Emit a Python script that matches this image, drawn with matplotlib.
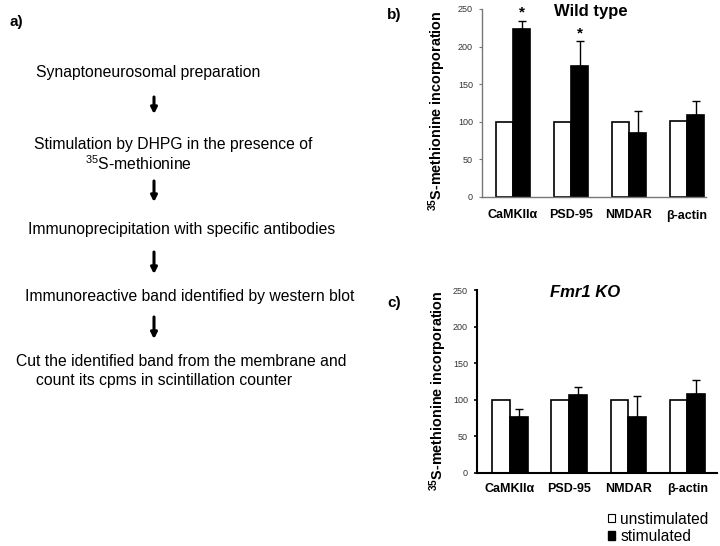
import matplotlib
matplotlib.use("Agg")
import matplotlib.pyplot as plt
from matplotlib.patches import Patch
import numpy as np

plt.rcParams['font.family'] = ['Liberation Sans', 'DejaVu Sans']
plt.rcParams['mathtext.fontset'] = 'custom'
plt.rcParams['mathtext.rm'] = 'Liberation Sans'
plt.rcParams['mathtext.bf'] = 'Liberation Sans:bold'

categories = ["CaMKIIα", "PSD-95", "NMDAR", "β-actin"]
yticks = [0, 50, 100, 150, 200, 250]

wt_unstim = [100, 100, 100, 101]
wt_stim = [223, 174, 85, 109]
wt_err = [11, 33, 29, 18]
wt_sig = [True, True, False, False]

ko_unstim = [100, 100, 100, 100]
ko_stim = [76, 106, 76, 108]
ko_err = [12, 12, 29, 19]

flow_steps = [
    "Synaptoneurosomal preparation",
    "Stimulation by DHPG in the presence of",
    "Immunoprecipitation with specific antibodies",
    "Immunoreactive band identified by western blot",
    "Cut the identified band from the membrane and",
]

W, H = 720, 546
fig = plt.figure(figsize=(7.2, 5.46), dpi=100)

def fx(px):
    return px / W

def fy(py):
    return 1 - py / H

# ---- panel a: flow chart text ----
fs = 11.3
fig.text(fx(10), fy(22), "a)", fontsize=11, fontweight='bold', va='center')
fig.text(fx(36), fy(72), flow_steps[0], fontsize=fs, va='center')
fig.text(fx(34), fy(145), flow_steps[1], fontsize=fs, va='center')
fig.text(fx(85), fy(164), r"$^{35}$S-methionine", fontsize=fs, va='center')
fig.text(fx(28), fy(229), flow_steps[2], fontsize=fs, va='center')
fig.text(fx(25), fy(297), flow_steps[3], fontsize=fs, va='center')
fig.text(fx(16), fy(362), flow_steps[4], fontsize=fs, va='center')
fig.text(fx(36), fy(380), "count its cpms in scintillation counter", fontsize=fs, va='center')

for y0, y1 in [(97, 114), (181, 202), (252, 274), (317, 339)]:
    fig.add_artist(matplotlib.patches.FancyArrowPatch(
        (fx(154), fy(y0)), (fx(154), fy(y1)), transform=fig.transFigure,
        arrowstyle='-|>,head_length=0.35,head_width=0.18', lw=2.2, color='black',
        mutation_scale=10, shrinkA=0, shrinkB=0))

# ---- bar panels ----
w = 0.3
x = np.arange(len(categories))

def bar_panel(rect, unstim, stim, err, title, italic, axcolor, axlw, xlim, labelpos, xpad):
    ax = fig.add_axes(rect)
    ax.bar(x - w / 2, unstim, w, color='white', edgecolor='black', linewidth=1.2)
    ax.bar(x + w / 2, stim, w, color='black', edgecolor='black', linewidth=1.2)
    ax.errorbar(x + w / 2, stim, yerr=[np.zeros(len(err)), err], fmt='none',
                ecolor='black', elinewidth=1.0, capsize=3, capthick=1.0)
    ax.set_ylim(0, 250)
    ax.set_xlim(*xlim)
    ax.set_yticks(yticks)
    ax.set_yticklabels([str(t) for t in yticks], fontsize=6.5, color='#333333')
    ax.set_xticks(x)
    ax.set_xticklabels(categories, fontsize=9, fontweight='bold')
    ax.tick_params(axis='x', length=0, pad=xpad)
    ax.tick_params(axis='y', length=2.5, width=axlw * 0.8, color=axcolor, pad=4)
    for s in ['top', 'right']:
        ax.spines[s].set_visible(False)
    for s in ['left', 'bottom']:
        ax.spines[s].set_color(axcolor)
        ax.spines[s].set_linewidth(axlw)
    ax.set_ylabel(r"$^{\mathbf{35}}$S-methionine incorporation", fontsize=10.4,
                  fontweight='bold')
    ax.yaxis.set_label_coords(*labelpos)
    ax.text(title[1], title[2], title[0], transform=ax.transAxes, fontsize=12,
            fontweight='bold', style='italic' if italic else 'normal',
            ha='center', va='center')
    return ax

# panel b
axb = bar_panel([fx(482), fy(197), fx(705.5 - 482), (197 - 9) / H],
                wt_unstim, wt_stim, wt_err, ("Wild type", 0.488, 0.985), False,
                '#777777', 1.0, (-0.534, 3.32), (-0.153, 0.46), 9)
for i, s in enumerate(wt_sig):
    if s:
        axb.text(x[i] + w / 2, wt_stim[i] + wt_err[i] + 11, "*", ha='center',
                 va='center', fontsize=11, fontweight='bold')
fig.text(fx(387), fy(15), "b)", fontsize=11, fontweight='bold', va='center')

# panel c
axc = bar_panel([fx(477), fy(473), fx(240), (473 - 290) / H],
                ko_unstim, ko_stim, ko_err, ("Fmr1 KO", 0.45, 0.985), True,
                'black', 1.5, (-0.56, 3.5), (-0.117, 0.45), 7)
fig.text(fx(387), fy(303), "c)", fontsize=11, fontweight='bold', va='center')

# legend
handles = [Patch(facecolor='white', edgecolor='black', linewidth=0.8, label='unstimulated'),
           Patch(facecolor='black', edgecolor='black', label='stimulated')]
fig.legend(handles=handles, loc='center left', bbox_to_anchor=(fx(600), fy(528)),
           frameon=False, fontsize=11.2, handlelength=0.45, handleheight=0.45,
           handletextpad=0.35, labelspacing=0.15, borderpad=0)

fig.savefig("out.png", dpi=100)
